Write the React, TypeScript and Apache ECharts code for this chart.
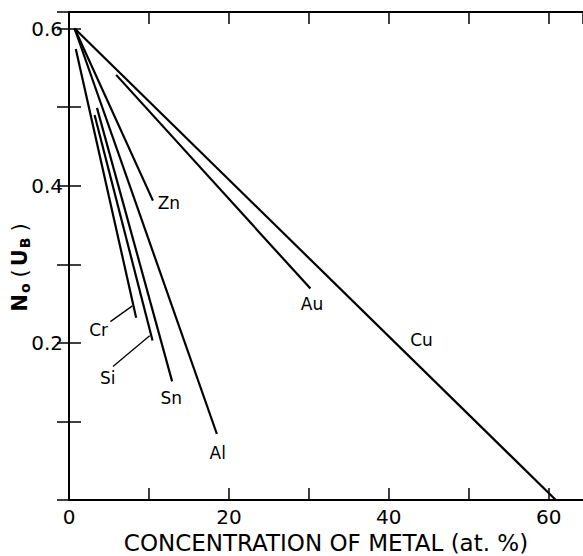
import React, { useEffect, useRef } from "react";
import * as echarts from "echarts";

// Lines: metal, start (x,y), end (x,y)
const metals = ["Cu", "Au", "Zn", "Al", "Cr", "Si", "Sn"];
const startX = [0.7, 5.9, 0.7, 0.7, 0.85, 3.2, 3.5];
const startY = [0.6, 0.541, 0.6, 0.6, 0.574, 0.49, 0.499];
const endX = [60.9, 30.2, 10.5, 18.5, 8.4, 10.45, 12.9];
const endY = [0, 0.269, 0.381, 0.084, 0.232, 0.203, 0.151];
// Label positions
const labelX = [44.1, 30.4, 12.5, 18.6, 3.7, 4.85, 12.8];
const labelY = [0.204, 0.249, 0.378, 0.06, 0.216, 0.155, 0.13];
// Leader lines (Cr, Si)
const leaderNames = ["Cr", "Si"];
const leaderFrom = [[5.18, 0.227], [5.5, 0.17]];
const leaderTo = [[7.93, 0.247], [10.09, 0.209]];

const xTickLabels = [0, 20, 40, 60];
const yTickLabels = [0.2, 0.4, 0.6];

const FONT = "DejaVu Sans";

export default function App() {
  const ref = useRef<HTMLDivElement>(null);
  useEffect(() => {
    if (!ref.current) return;
    const chart = echarts.init(ref.current, undefined, { renderer: "svg" });
    const lineSeries: any[] = metals.map((m, i) => ({
      name: m,
      type: "line",
      xAxisIndex: 0,
      yAxisIndex: 0,
      showSymbol: false,
      symbol: "none",
      silent: true,
      lineStyle: { color: "#000", width: 2.2 },
      data: [
        [startX[i], startY[i]],
        [endX[i], endY[i]],
      ],
    }));
    const leaderSeries: any[] = leaderNames.map((m, i) => ({
      name: m + " leader",
      type: "line",
      showSymbol: false,
      symbol: "none",
      silent: true,
      lineStyle: { color: "#000", width: 1.3 },
      data: [leaderFrom[i], leaderTo[i]],
    }));
    const labelSeries = {
      name: "labels",
      type: "scatter",
      symbolSize: 0,
      silent: true,
      itemStyle: { opacity: 1, color: "#000" },
      data: metals.map((m, i) => [labelX[i], labelY[i], m]),
      label: {
        show: true,
        position: "inside",
        formatter: (p: any) => p.data[2],
        color: "#000",
        opacity: 1,
        textBorderWidth: 0,
        fontFamily: FONT,
        fontSize: 17,
      },
    };
    const xLabelFmt = (v: number) =>
      xTickLabels.some((t) => Math.abs(t - v) < 1e-6) ? String(Math.round(v)) : "";
    const yLabelFmt = (v: number) =>
      yTickLabels.some((t) => Math.abs(t - v) < 1e-6) ? v.toFixed(1) : "";
    chart.setOption({
      animation: false,
      backgroundColor: "#fff",
      grid: { left: 69, right: 0, top: 12, bottom: 56, outerBoundsMode: "none", containLabel: false },
      xAxis: [
        {
          type: "value",
          min: 0,
          max: 64.3,
          interval: 10,
          position: "bottom",
          splitLine: { show: false },
          axisLine: { show: true, onZero: false, lineStyle: { color: "#000", width: 2 } },
          axisTick: { show: true, inside: true, length: 12, lineStyle: { color: "#000", width: 1.5 } },
          axisLabel: {
            formatter: xLabelFmt,
            color: "#000",
            fontFamily: FONT,
            fontSize: 20,
            margin: 7,
            showMaxLabel: false,
          },
          name: "CONCENTRATION OF METAL (at. %)",
          nameLocation: "middle",
          nameGap: 24,
          nameTextStyle: { color: "#000", fontFamily: FONT, fontSize: 23, lineHeight: 23 },
        },
        {
          type: "value",
          min: 0,
          max: 64.3,
          interval: 10,
          position: "top",
          splitLine: { show: false },
          axisLine: { show: true, onZero: false, lineStyle: { color: "#000", width: 2 } },
          axisTick: { show: true, inside: true, length: 12, lineStyle: { color: "#000", width: 1.5 } },
          axisLabel: { show: false },
        },
      ],
      yAxis: [
        {
          type: "value",
          min: 0,
          max: 0.621,
          interval: 0.1,
          position: "left",
          splitLine: { show: false },
          axisLine: { show: true, onZero: false, lineStyle: { color: "#000", width: 2 } },
          axisTick: { show: true, inside: true, length: 12, lineStyle: { color: "#000", width: 1.5 } },
          axisLabel: {
            formatter: yLabelFmt,
            color: "#000",
            fontFamily: FONT,
            fontSize: 20,
            margin: 6,
            showMaxLabel: false,
          },
        },
        {
          type: "value",
          min: 0,
          max: 0.621,
          interval: 0.1,
          position: "right",
          splitLine: { show: false },
          axisLine: { show: false },
          axisTick: { show: true, inside: true, length: 12, lineStyle: { color: "#000", width: 1.5 } },
          axisLabel: { show: false },
        },
      ],
      graphic: [
        {
          type: "text",
          x: 20,
          y: 266,
          rotation: Math.PI / 2,
          style: {
            text: "{m|N}{s|o}{p|(}{m|U}{s|B}{p|)}",
            align: "center",
            verticalAlign: "middle",
            textAlign: "center",
            textVerticalAlign: "middle",
            fill: "#000",
            rich: {
              m: { fontFamily: FONT, fontSize: 21, lineHeight: 24, fill: "#000", fontWeight: "bold" },
              p: { fontFamily: FONT, fontSize: 21, lineHeight: 24, fill: "#000", padding: [0, 3, 0, 0] },
              s: {
                fontFamily: FONT,
                fontSize: 14,
                lineHeight: 14,
                verticalAlign: "bottom",
                fill: "#000",
                fontWeight: "bold",
                padding: [0, 6, 0, 1],
              },
            },
          },
        },
      ],
      series: [...lineSeries, ...leaderSeries, labelSeries],
    });
    return () => chart.dispose();
  }, []);
  return (
    <div
      ref={ref}
      style={{ position: "absolute", left: 0, top: 0, width: 583, height: 556, background: "#fff" }}
    />
  );
}
